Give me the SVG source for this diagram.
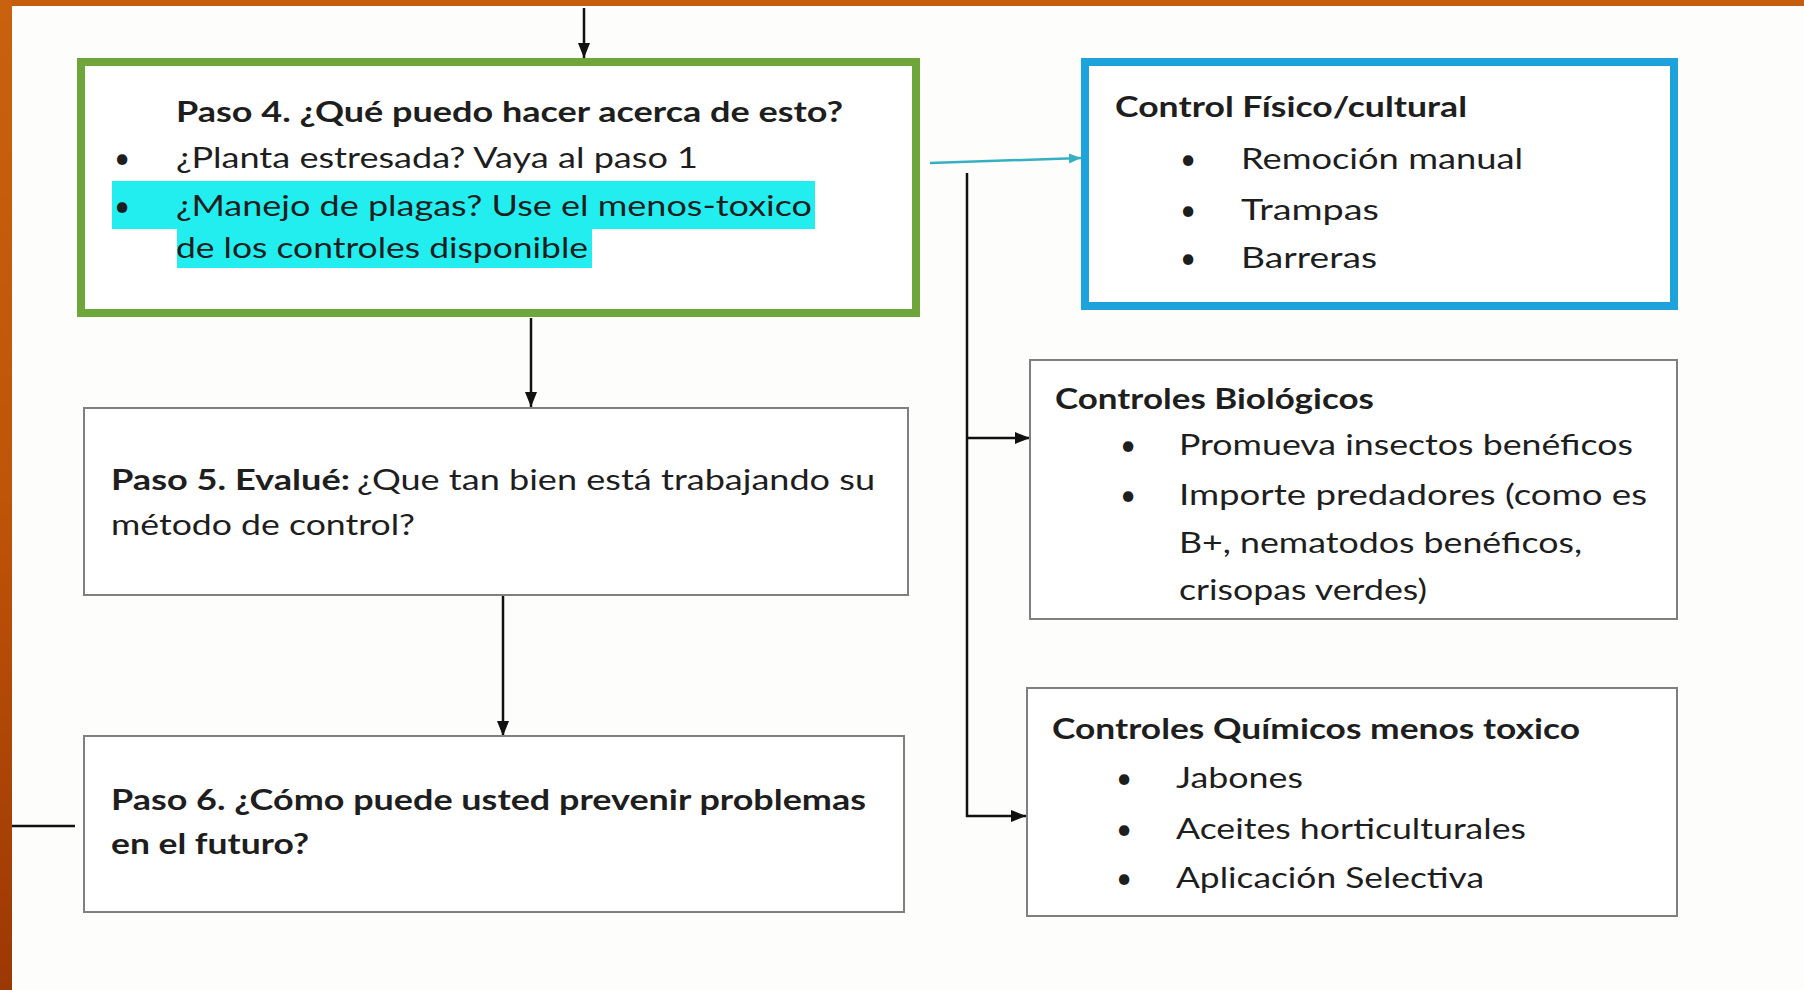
<svg xmlns="http://www.w3.org/2000/svg" width="1804" height="990" viewBox="0 0 1804 990">
<style>
text{font-family:"Lato","Liberation Sans",sans-serif;font-size:28px;fill:#1e1e1e}
.b{font-weight:bold}
.box{fill:#fff;stroke:#808080;stroke-width:2}
.ln{stroke:#111;stroke-width:2.5;fill:none}
</style>
<defs>
<linearGradient id="og" x1="0" y1="0" x2="0" y2="1">
<stop offset="0" stop-color="#c8620f"/><stop offset="0.5" stop-color="#c05408"/><stop offset="1" stop-color="#9c3804"/>
</linearGradient>
<marker id="ah" markerWidth="16" markerHeight="14" refX="15" refY="7" orient="auto" markerUnits="userSpaceOnUse"><path d="M0,1 L15,7 L0,13 z" fill="#111"/></marker>
<marker id="ahc" markerWidth="12" markerHeight="12" refX="12" refY="6" orient="auto" markerUnits="userSpaceOnUse"><path d="M0,1 L12,6 L0,11 z" fill="#35b0c2"/></marker>
</defs>
<rect x="0" y="0" width="1804" height="990" fill="#fdfdfc"/>
<rect x="0" y="0" width="1804" height="6" fill="#c65d0e"/>
<rect x="0" y="0" width="12" height="990" fill="url(#og)"/>

<g id="connectors">
<line class="ln" x1="584" y1="8" x2="584" y2="58" marker-end="url(#ah)"/>
<line class="ln" x1="531" y1="318" x2="531" y2="407" marker-end="url(#ah)"/>
<line class="ln" x1="503" y1="595" x2="503" y2="736" marker-end="url(#ah)"/>
<line x1="930" y1="163" x2="1081" y2="158" stroke="#35b0c2" stroke-width="2.5" marker-end="url(#ahc)"/>
<line class="ln" x1="967" y1="173" x2="967" y2="817"/>
<line class="ln" x1="966" y1="438" x2="1030" y2="438" marker-end="url(#ah)"/>
<line class="ln" x1="966" y1="816" x2="1026" y2="816" marker-end="url(#ah)"/>
<line class="ln" x1="12" y1="826" x2="75" y2="826"/>
</g>

<g id="paso4">
<rect x="81" y="62" width="835" height="251" fill="#fff" stroke="#6fa63b" stroke-width="8"/>
<rect x="112" y="181" width="703" height="48" fill="#22eef0"/>
<rect x="177" y="228" width="415" height="40" fill="#22eef0"/>
<text class="b" x="176" y="122" textLength="667" lengthAdjust="spacingAndGlyphs">Paso 4. ¿Qué puedo hacer acerca de esto?</text>
<text x="114" y="168">•</text>
<text x="176" y="168" textLength="522" lengthAdjust="spacingAndGlyphs">¿Planta estresada? Vaya al paso 1</text>
<text x="114" y="216">•</text>
<text x="176" y="216" textLength="636" lengthAdjust="spacingAndGlyphs">¿Manejo de plagas? Use el menos-toxico</text>
<text x="176" y="258" textLength="412" lengthAdjust="spacingAndGlyphs">de los controles disponible</text>
</g>

<g id="fisico">
<rect x="1085" y="62" width="589" height="244" fill="#fff" stroke="#1ea2dc" stroke-width="8"/>
<text class="b" x="1115" y="117" textLength="352" lengthAdjust="spacingAndGlyphs">Control Físico/cultural</text>
<text x="1180" y="169">•</text>
<text x="1241" y="169" textLength="282" lengthAdjust="spacingAndGlyphs">Remoción manual</text>
<text x="1180" y="220">•</text>
<text x="1241" y="220" textLength="138" lengthAdjust="spacingAndGlyphs">Trampas</text>
<text x="1180" y="268">•</text>
<text x="1241" y="268" textLength="136" lengthAdjust="spacingAndGlyphs">Barreras</text>
</g>

<g id="paso5">
<rect class="box" x="84" y="408" width="824" height="187"/>
<text class="b" x="111" y="490" textLength="239" lengthAdjust="spacingAndGlyphs">Paso 5. Evalué:</text>
<text x="357" y="490" textLength="518" lengthAdjust="spacingAndGlyphs">¿Que tan bien está trabajando su</text>
<text x="111" y="535" textLength="304" lengthAdjust="spacingAndGlyphs">método de control?</text>
</g>

<g id="biologicos">
<rect class="box" x="1030" y="360" width="647" height="259"/>
<text class="b" x="1055" y="409" textLength="319" lengthAdjust="spacingAndGlyphs">Controles Biológicos</text>
<text x="1120" y="455">•</text>
<text x="1179" y="455" textLength="454" lengthAdjust="spacingAndGlyphs">Promueva insectos benéficos</text>
<text x="1120" y="505">•</text>
<text x="1179" y="505" textLength="468" lengthAdjust="spacingAndGlyphs">Importe predadores (como es</text>
<text x="1179" y="553" textLength="403" lengthAdjust="spacingAndGlyphs">B+, nematodos benéficos,</text>
<text x="1179" y="600" textLength="248" lengthAdjust="spacingAndGlyphs">crisopas verdes)</text>
</g>

<g id="paso6">
<rect class="box" x="84" y="736" width="820" height="176"/>
<text class="b" x="111" y="810" textLength="755" lengthAdjust="spacingAndGlyphs">Paso 6. ¿Cómo puede usted prevenir problemas</text>
<text class="b" x="111" y="854" textLength="198" lengthAdjust="spacingAndGlyphs">en el futuro?</text>
</g>

<g id="quimicos">
<rect class="box" x="1027" y="688" width="650" height="228"/>
<text class="b" x="1052" y="739" textLength="528" lengthAdjust="spacingAndGlyphs">Controles Químicos menos toxico</text>
<text x="1116" y="788">•</text>
<text x="1176" y="788" textLength="127" lengthAdjust="spacingAndGlyphs">Jabones</text>
<text x="1116" y="839">•</text>
<text x="1176" y="839" textLength="350" lengthAdjust="spacingAndGlyphs">Aceites horticulturales</text>
<text x="1116" y="888">•</text>
<text x="1176" y="888" textLength="308" lengthAdjust="spacingAndGlyphs">Aplicación Selectiva</text>
</g>
</svg>
